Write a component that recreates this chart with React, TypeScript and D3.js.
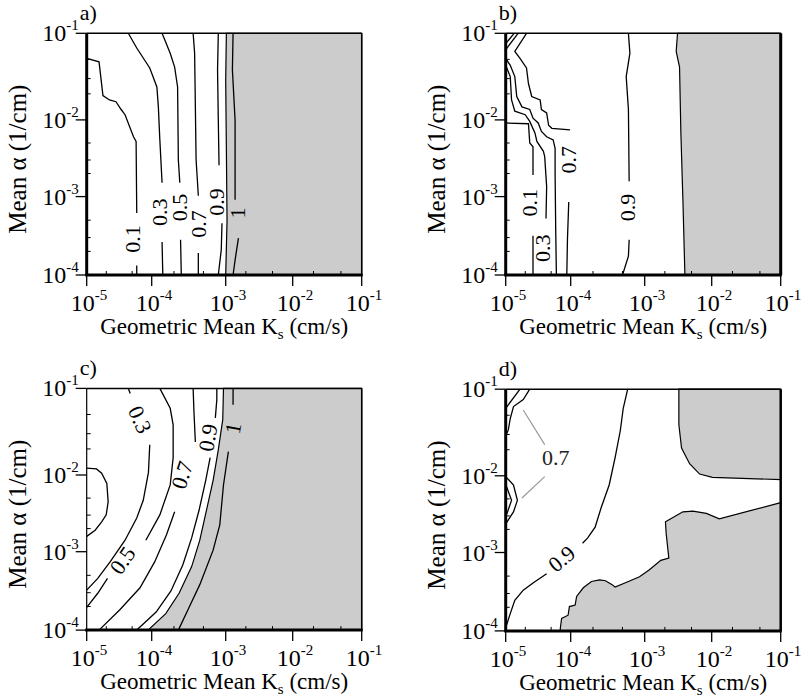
import React from 'react'
import * as d3 from 'd3'

// every point is [log10 Ks (cm/s), log10 alpha (1/cm)]
type Pt = [number, number]

const ksDecades = [-5, -4, -3, -2, -1]
const alphaDecades = [-1, -2, -3, -4]
const minorX = [2, 5]
const minorY = [2, 3, 5]

// the printed axes are not spaced evenly, each decade has its own offset
const xStops = [0, 65, 139, 206, 275]
const yStops = [0, 86.6, 163.3, 241.7]

// ---- panel a
const a01: Pt[][] = [
  [[-5, -1.29], [-4.81, -1.33], [-4.75, -1.72], [-4.65, -1.77], [-4.55, -1.79], [-4.47, -1.88], [-4.41, -1.94], [-4.28, -2.22], [-4.24, -2.28], [-4.23, -3.21]],
  [[-4.23, -3.88], [-4.23, -4]],
]
const a03: Pt[][] = [
  [[-4.36, -1], [-4.23, -1.17], [-4.03, -1.4], [-3.93, -1.62], [-3.91, -1.85], [-3.89, -2.26], [-3.86, -2.82]],
  [[-3.86, -3.58], [-3.85, -4]],
]
const a05: Pt[][] = [
  [[-3.86, -1], [-3.75, -1.23], [-3.69, -1.39], [-3.65, -1.62], [-3.64, -2.52], [-3.62, -2.82]],
  [[-3.61, -3.55], [-3.6, -4]],
]
const a07: Pt[][] = [
  [[-3.44, -1], [-3.42, -1.23], [-3.4, -2.52], [-3.37, -2.99]],
  [[-3.37, -3.72], [-3.37, -4]],
]
const a09: Pt[][] = [
  [[-3.1, -1], [-3.11, -1.42], [-3.1, -2], [-3.09, -2.59]],
  [[-3.05, -3.34], [-3.06, -3.68], [-3.1, -4]],
]
const a10: Pt[][] = [
  [[-2.89, -1], [-2.9, -1.42], [-2.86, -2], [-2.86, -3.04]],
  [[-2.81, -3.53], [-2.86, -3.81], [-2.89, -4]],
]
const aGray: Pt[] = [[-2.99, -1], [-3.0, -1.54], [-2.99, -2.39], [-2.98, -3.3], [-3.0, -4], [-1, -4], [-1, -1]]
const aLabels = [
  { text: '0.1', at: [-4.29, -3.54], rot: -90 },
  { text: '0.3', at: [-3.9, -3.2], rot: -90 },
  { text: '0.5', at: [-3.63, -3.14], rot: -90 },
  { text: '0.7', at: [-3.37, -3.35], rot: -90 },
  { text: '0.9', at: [-3.13, -3.07], rot: -90 },
  { text: '1', at: [-2.82, -3.21], rot: -90 },
]

// ---- panel b
const b01: Pt[][] = [
  [[-5, -2.04], [-4.65, -2.05], [-4.63, -2.3], [-4.58, -2.35], [-4.58, -2.72]],
  [[-4.58, -3.5], [-4.58, -4]],
]
const b03: Pt[][] = [
  [[-5, -1.37], [-4.93, -1.5], [-4.91, -1.77], [-4.86, -1.9], [-4.7, -1.94], [-4.63, -2.02], [-4.55, -2.17], [-4.52, -2.28], [-4.42, -2.41], [-4.4, -2.48], [-4.37, -2.87], [-4.38, -3.28]],
]
const b05: Pt[][] = [
  [[-5, -1.29], [-4.93, -1.37], [-4.86, -1.5], [-4.83, -1.73], [-4.75, -1.85], [-4.63, -1.88], [-4.58, -1.98], [-4.5, -2.04], [-4.45, -2.15], [-4.37, -2.22], [-4.27, -2.26], [-4.24, -2.37], [-4.24, -2.7], [-4.23, -3.46], [-4.22, -4]],
]
const b07: Pt[][] = [
  [[-4.68, -1], [-4.86, -1.21], [-4.78, -1.29], [-4.68, -1.4], [-4.65, -1.58], [-4.6, -1.73], [-4.47, -1.77], [-4.45, -1.88], [-4.37, -1.92], [-4.34, -2.07], [-4.29, -2.11], [-4.01, -2.13]],
  [[-4.03, -3.07], [-4.05, -3.55], [-4.06, -4]],
]
const bCorner: Pt[][] = [
  [[-5, -1.12], [-4.87, -1]],
  [[-5, -1.19], [-4.81, -1]],
]
const b09: Pt[][] = [
  [[-3.22, -1], [-3.2, -1.23], [-3.25, -1.5], [-3.22, -1.88], [-3.21, -2.8]],
  [[-3.21, -3.55], [-3.22, -3.76], [-3.3, -4]],
]
const bGray: Pt[] = [[-2.51, -1], [-2.53, -1.21], [-2.48, -1.39], [-2.46, -2.17], [-2.43, -3.04], [-2.4, -4], [-1, -4], [-1, -1]]
const bLabels = [
  { text: '0.1', at: [-4.64, -3.08], rot: -90 },
  { text: '0.3', at: [-4.43, -3.66], rot: -90 },
  { text: '0.7', at: [-4.03, -2.52], rot: -90 },
  { text: '0.9', at: [-3.23, -3.14], rot: -90 },
]

// ---- panel c
const c01: Pt[][] = [
  [[-5, -1.92], [-4.85, -1.93], [-4.77, -1.98], [-4.69, -2.11], [-4.67, -2.35], [-4.7, -2.52], [-4.77, -2.61], [-4.87, -2.72], [-5, -2.8]],
]
const c03: Pt[][] = [
  [[-4.36, -1], [-4.33, -1.06]],
  [[-4.03, -1.65], [-4.05, -1.97], [-4.13, -2.33], [-4.23, -2.56], [-4.41, -2.85], [-4.64, -3.13], [-4.83, -3.34], [-5, -3.49]],
]
const c05: Pt[][] = [
  [[-3.89, -1], [-3.75, -1.23], [-3.71, -1.42], [-3.71, -1.8], [-3.75, -2.13], [-3.89, -2.52], [-4.09, -2.85]],
  [[-4.68, -3.34], [-4.83, -3.53], [-5, -3.71]],
]
const c07: Pt[][] = [
  [[-3.44, -1], [-3.43, -1.25], [-3.41, -1.62]],
  [[-3.69, -2.48], [-3.8, -2.78], [-3.96, -3.13], [-4.18, -3.46], [-4.49, -3.74], [-4.81, -4]],
]
const c09: Pt[][] = [
  [[-3.12, -1], [-3.12, -1.13], [-3.14, -1.34]],
  [[-3.21, -1.8], [-3.27, -2.07], [-3.36, -2.46], [-3.46, -2.82], [-3.58, -3.17], [-3.74, -3.5], [-3.94, -3.77], [-4.23, -4]],
]
const c10: Pt[][] = [
  [[-2.89, -1], [-2.89, -1.19]],
  [[-2.96, -1.73], [-3.03, -2.13], [-3.08, -2.65], [-3.17, -2.98], [-3.35, -3.42], [-3.51, -3.74], [-3.64, -4]],
]
const cGray: Pt[] = [[-3.03, -1], [-3.04, -1.36], [-3.1, -1.71], [-3.17, -2.07], [-3.26, -2.46], [-3.35, -2.85], [-3.46, -3.19], [-3.63, -3.53], [-3.81, -3.79], [-4.03, -3.98], [-4.04, -4], [-1, -4], [-1, -1]]
const cLabels = [
  { text: '0.3', at: [-4.18, -1.36], rot: 65 },
  { text: '0.5', at: [-4.45, -3.11], rot: -55 },
  { text: '0.7', at: [-3.59, -2.0], rot: -72 },
  { text: '0.9', at: [-3.24, -1.57], rot: -80 },
  { text: '1', at: [-2.89, -1.46], rot: -80 },
]

// ---- panel d
const d07: Pt[][] = [
  [[-4.63, -1], [-4.73, -1.12], [-4.88, -1.2], [-4.93, -1.34], [-4.96, -1.47], [-5, -1.54]],
  [[-4.78, -1], [-4.96, -1.18], [-5, -1.22]],
  [[-5, -2.01], [-4.88, -2.12], [-4.82, -2.32], [-4.88, -2.47], [-4.98, -2.6], [-5, -2.63]],
  [[-5, -2.11], [-4.91, -2.32], [-4.98, -2.49], [-5, -2.52]],
]
const d09: Pt[][] = [
  [[-3.23, -1], [-3.29, -1.22], [-3.33, -1.48], [-3.4, -1.79], [-3.48, -2.12], [-3.59, -2.42], [-3.67, -2.67], [-3.77, -2.81], [-3.84, -2.88]],
  [[-4.37, -3.27], [-4.58, -3.39], [-4.73, -3.48], [-4.86, -3.61], [-4.93, -3.78], [-5, -3.96], [-5, -4]],
]
const dGrayTop: Pt[] = [[-2.49, -1], [-2.49, -1.41], [-2.45, -1.68], [-2.33, -1.86], [-2.18, -1.98], [-1.99, -2.02], [-1, -2.05], [-1, -1]]
const dGrayLow: Pt[] = [
  [-1, -2.35], [-1.89, -2.56], [-2.08, -2.49], [-2.28, -2.46], [-2.43, -2.47], [-2.65, -2.58], [-2.69, -2.6], [-2.68, -2.75],
  [-2.64, -3.07], [-2.76, -3.1], [-2.93, -3.22], [-3.07, -3.31], [-3.22, -3.37], [-3.4, -3.44], [-3.44, -3.41], [-3.53, -3.36],
  [-3.61, -3.35], [-3.72, -3.37], [-3.83, -3.45], [-3.92, -3.56], [-3.94, -3.67], [-4.02, -3.69], [-4.04, -3.8], [-4.14, -3.84],
  [-4.16, -3.97], [-4.16, -4], [-1, -4],
]
const dLeaders: Pt[][] = [
  [[-4.73, -1.24], [-4.4, -1.64]],
  [[-4.4, -2.01], [-4.75, -2.29]],
]
const dLabels = [
  { text: '0.7', at: [-4.23, -1.79], rot: 0 },
  { text: '0.9', at: [-4.14, -3.08], rot: -40 },
]

const panels = [
  { tag: 'a)', left: 86.7, top: 33.3, grays: [aGray], lines: [a01, a03, a05, a07, a09, a10], leaders: [], labels: aLabels, frame: [1.5, 1.5, 3, 3] },
  { tag: 'b)', left: 505.7, top: 33.3, grays: [bGray], lines: [b01, b03, b05, b07, bCorner, b09], leaders: [], labels: bLabels, frame: [1.5, 3, 3, 3] },
  { tag: 'c)', left: 86.7, top: 388.4, grays: [cGray], lines: [c01, c03, c05, c07, c09, c10], leaders: [], labels: cLabels, frame: [1.5, 1.5, 3, 1.2] },
  { tag: 'd)', left: 505.7, top: 389.2, grays: [dGrayTop, dGrayLow], lines: [d07, d09], leaders: dLeaders, labels: dLabels, frame: [1.5, 2.5, 3, 3] },
]

const FONT = "'Liberation Serif', 'Times New Roman', serif"

function Panel({ p }: { p: any }) {
  const x = d3.scaleLog().domain(ksDecades.map(e => 10 ** e)).range(xStops.map(o => p.left + o))
  const y = d3.scaleLog().domain(alphaDecades.map(e => 10 ** e)).range(yStops.map(o => p.top + o))
  const line = d3.line<Pt>().x(d => x(10 ** d[0])).y(d => y(10 ** d[1]))
  const right = p.left + xStops[xStops.length - 1]
  const bottom = p.top + yStops[yStops.length - 1]
  const cx = (p.left + right) / 2
  const cy = (p.top + bottom) / 2

  const minorXs: number[] = []
  ksDecades.slice(0, -1).forEach(e => minorX.forEach(k => minorXs.push(k * 10 ** e)))
  const minorYs: number[] = []
  alphaDecades.slice(1).forEach(e => minorY.forEach(k => minorYs.push(k * 10 ** e)))

  return (
    <g>
      {p.grays.map((g: Pt[], i: number) => (
        <path key={'g' + i} d={line(g) + 'Z'} fill="#cccccc" stroke="#000" strokeWidth={1.2} />
      ))}
      {p.lines.map((segs: Pt[][], i: number) =>
        segs.map((s, j) => (
          <path key={`l${i}-${j}`} d={line(s) || ''} fill="none" stroke="#000" strokeWidth={1.3} />
        ))
      )}
      {p.leaders.map((s: Pt[], i: number) => (
        <path key={'ld' + i} d={line(s) || ''} fill="none" stroke="#999" strokeWidth={1.2} />
      ))}
      {p.labels.map((l: any, i: number) => (
        <text
          key={'t' + i}
          transform={`translate(${x(10 ** l.at[0])},${y(10 ** l.at[1])}) rotate(${l.rot})`}
          textAnchor="middle"
          dominantBaseline="central"
          fontSize={22}
          fontFamily={FONT}
          fill={l.rot === 0 ? '#222' : '#000'}
        >
          {l.text}
        </text>
      ))}

      {/* frame */}
      <line x1={p.left} x2={right} y1={p.top} y2={p.top} stroke="#000" strokeWidth={p.frame[0]} />
      <line x1={right} x2={right} y1={p.top} y2={bottom} stroke="#000" strokeWidth={p.frame[1]} />
      <line x1={p.left - 1.5} x2={right + 1} y1={bottom} y2={bottom} stroke="#000" strokeWidth={p.frame[2]} />
      <line x1={p.left} x2={p.left} y1={p.top} y2={bottom} stroke="#000" strokeWidth={p.frame[3]} />

      {/* ticks */}
      {ksDecades.map((e, i) => (
        <g key={'xt' + i}>
          <line x1={x(10 ** e)} x2={x(10 ** e)} y1={bottom} y2={bottom + 11} stroke="#000" strokeWidth={1.3} />
          <text x={x(10 ** e) - 16} y={bottom + 36} fontSize={24} fontFamily={FONT}>
            10<tspan fontSize={15} dy={-11}>{'-' + -e}</tspan>
          </text>
        </g>
      ))}
      {minorXs.map((v, i) => (
        <line key={'xm' + i} x1={x(v)} x2={x(v)} y1={bottom} y2={bottom - 4} stroke="#000" strokeWidth={1} />
      ))}
      {alphaDecades.map((e, i) => (
        <g key={'yt' + i}>
          <line x1={p.left - 11} x2={p.left} y1={y(10 ** e)} y2={y(10 ** e)} stroke="#000" strokeWidth={1.3} />
          <text x={p.left - 8} y={y(10 ** e) + 8} fontSize={24} fontFamily={FONT} textAnchor="end">
            10<tspan fontSize={15} dy={-11}>{'-' + -e}</tspan>
          </text>
        </g>
      ))}
      {minorYs.map((v, i) => (
        <line key={'ym' + i} x1={p.left} x2={p.left + 4} y1={y(v)} y2={y(v)} stroke="#000" strokeWidth={1} />
      ))}

      {/* titles */}
      <text x={cx} y={bottom + 59} textAnchor="middle" fontSize={23} fontFamily={FONT}>
        Geometric Mean K<tspan fontSize={15} dy={5}>s</tspan>
        <tspan dy={-5}> (cm/s)</tspan>
      </text>
      <text transform={`translate(${p.left - 61},${cy + 5}) rotate(-90)`} textAnchor="middle" fontSize={25} fontFamily={FONT}>
        Mean α (1/cm)
      </text>
      <text x={p.left - 7} y={p.top - 13} fontSize={22} fontFamily={FONT}>
        {p.tag}
      </text>
    </g>
  )
}

export default function App() {
  return (
    <svg
      width={802}
      height={699}
      viewBox="0 0 802 699"
      style={{ position: 'absolute', left: 0, top: 0, display: 'block', background: '#fff' }}
    >
      <rect width={802} height={699} fill="#fff" />
      {panels.map(p => (
        <Panel key={p.tag} p={p} />
      ))}
    </svg>
  )
}
